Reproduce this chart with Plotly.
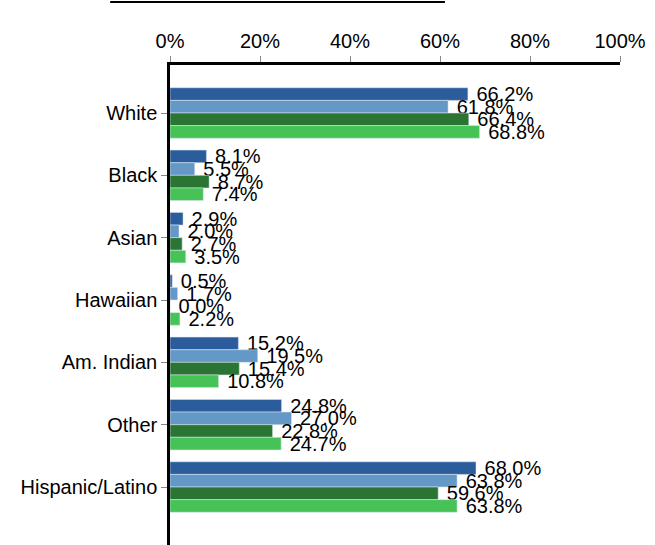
import plotly.graph_objects as go

categories = ["White", "Black", "Asian", "Hawaiian", "Am. Indian", "Other", "Hispanic/Latino"]
series_names = ["Series 1", "Series 2", "Series 3", "Series 4"]
series_values = [
    [66.2, 8.1, 2.9, 0.5, 15.2, 24.8, 68.0],
    [61.8, 5.5, 2.0, 1.7, 19.5, 27.0, 63.8],
    [66.4, 8.7, 2.7, 0.0, 15.4, 22.8, 59.6],
    [68.8, 7.4, 3.5, 2.2, 10.8, 24.7, 63.8],
]
series_colors = ["#2B5C9C", "#6498C7", "#2B7534", "#46C257"]
tick_vals = [0, 20, 40, 60, 80, 100]
tick_text = ["0%", "20%", "40%", "60%", "80%", "100%"]

fig = go.Figure()
for name, vals, col in zip(series_names, series_values, series_colors):
    fig.add_trace(go.Bar(
        y=categories, x=vals, name=name, orientation="h",
        marker=dict(color=col, line=dict(color="rgba(220,230,240,0.9)", width=0.6)),
        text=[f"{v:.1f}%" for v in vals], textposition="outside",
        texttemplate=" %{text}",
        textfont=dict(family="Liberation Sans, Arial", size=20, color="black"),
        cliponaxis=False, constraintext="none",
    ))

fig.update_layout(
    width=655, height=545,
    margin=dict(l=170, r=35, t=65, b=0),
    barmode="group", bargap=0.19, bargroupgap=0,
    plot_bgcolor="white", paper_bgcolor="white",
    showlegend=False,
    font=dict(family="Liberation Sans, Arial", size=20, color="black"),
    xaxis=dict(
        side="top", range=[0, 100], tickvals=tick_vals, ticktext=tick_text,
        showgrid=False, zeroline=False, showline=True, linecolor="black", linewidth=2.5,
        ticks="outside", ticklen=6, tickcolor="#888888", tickwidth=1,
        tickfont=dict(size=20),
    ),
    yaxis=dict(
        categoryorder="array", categoryarray=categories,
        range=[6.93, -0.77],
        showgrid=False, zeroline=False, showline=True, linecolor="black", linewidth=2.5,
        ticks="outside", ticklen=6, tickcolor="#888888", tickwidth=1,
        tickfont=dict(size=20),
    ),
    shapes=[dict(type="line", xref="paper", yref="paper",
                 x0=-0.133, x1=0.611, y0=1.131, y1=1.131,
                 line=dict(color="black", width=2))],
)

fig.write_html("out.html")
